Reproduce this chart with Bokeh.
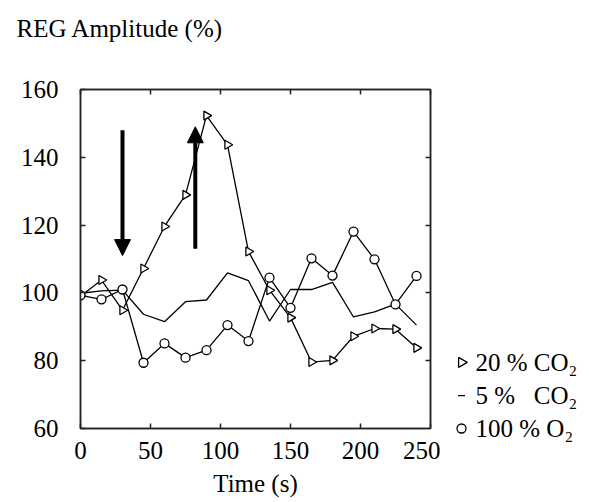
import math
from bokeh.plotting import figure
from bokeh.layouts import row
from bokeh.models import (LinearAxis, Range1d, FixedTicker, Arrow, NormalHead, Title)
from bokeh.core.properties import value
from bokeh.embed import file_html
from bokeh.resources import INLINE

# ---- data ----
time_s = [0, 15, 30, 45, 60, 75, 90, 105, 120, 135, 150, 165, 180, 195, 210, 225, 240]
co2_20 = [99.0, 103.8, 94.9, 107.2, 119.6, 128.9, 152.3, 143.7, 112.2, 100.8, 92.7,
          79.6, 80.1, 87.2, 89.5, 89.3, 83.8]
co2_5 = [99.9, 100.6, 100.8, 93.7, 91.5, 97.4, 97.9, 105.9, 103.6, 91.7, 101.0,
         101.0, 103.1, 92.9, 94.4, 96.7, 90.5]
o2_100 = [99.3, 98.1, 101.0, 79.4, 85.1, 80.9, 83.1, 90.5, 85.8, 104.5, 95.6,
          110.2, 105.1, 118.1, 109.9, 96.6, 105.0]
labels = ["20 % CO\u2082", "5 %\u00a0\u00a0\u00a0CO\u2082", "100 % O\u2082"]
legend_y = [79.5, 69.7, 60.0]
x_ticks = [0, 50, 100, 150, 200, 250]
y_ticks = [60, 80, 100, 120, 140, 160]
# arrows: (x, y_start, y_end)
arrow_down = (30, 148, 111)
arrow_up = (82, 113, 149)

FONT = "Liberation Serif"
FS = "25px"
Y0, Y1 = 60, 160
FRAME_H = 339
TOP = 89
PX_PER_UNIT = FRAME_H / (Y1 - Y0)

p = figure(frame_width=350, frame_height=FRAME_H, output_backend="svg",
           toolbar_location=None, x_range=Range1d(0, 250), y_range=Range1d(Y0, Y1),
           min_border_left=80, min_border_top=TOP, min_border_right=10,
           min_border_bottom=10)
p.grid.visible = False
p.background_fill_color = "white"
p.border_fill_color = "white"
p.outline_line_color = "#222222"
p.outline_line_width = 1.5

def style_axis(ax, show_labels=True):
    ax.axis_line_color = "#222222"
    ax.axis_line_width = 1.5
    ax.major_tick_in = 5
    ax.major_tick_out = 0
    ax.minor_tick_line_color = None
    ax.major_tick_line_color = "#222222"
    ax.major_tick_line_width = 1.5
    ax.major_label_text_font = FONT
    ax.major_label_text_font_size = FS
    ax.major_label_text_color = "black"
    ax.axis_label_text_font = FONT
    ax.axis_label_text_font_size = FS
    ax.axis_label_text_font_style = "normal"
    ax.axis_label_text_color = "black"
    if not show_labels:
        ticks = ax.ticker.ticks
        ax.major_label_overrides = {t: "" for t in ticks}
        ax.major_label_text_font_size = "1px"
        ax.major_label_standoff = 0

p.xaxis.ticker = FixedTicker(ticks=x_ticks)
p.yaxis.ticker = FixedTicker(ticks=y_ticks)
style_axis(p.xaxis[0])
style_axis(p.yaxis[0])
p.xaxis.axis_label = "Time (s)"
p.xaxis.major_label_standoff = 13
p.xaxis.axis_label_standoff = 8
p.yaxis.major_label_standoff = 22

top = LinearAxis(ticker=FixedTicker(ticks=x_ticks))
style_axis(top, show_labels=False)
p.add_layout(top, "above")
right = LinearAxis(ticker=FixedTicker(ticks=[80, 100, 120, 140]))
style_axis(right, show_labels=False)
p.add_layout(right, "right")

# spacer + y-axis title (horizontal, top-left)
p.add_layout(Title(text=" ", text_font_size="28px"), "above")
p.add_layout(Title(text="REG Amplitude (%)", text_font=FONT, text_font_size=FS,
                   text_font_style="normal", text_color="black", align="left",
                   offset=-64), "above")

# series
p.line(time_s, co2_20, line_color="black", line_width=1.3)
p.scatter(time_s, co2_20, marker="triangle", angle=-math.pi / 2, size=9,
          fill_color="white", line_color="black", line_width=1.3)
p.line(time_s, co2_5, line_color="black", line_width=1.3)
p.line(time_s, o2_100, line_color="black", line_width=1.3)
p.scatter(time_s, o2_100, marker="circle", size=9,
          fill_color="white", line_color="black", line_width=1.3)

for (ax_, ys, ye) in (arrow_down, arrow_up):
    p.add_layout(Arrow(end=NormalHead(size=16, fill_color="black", line_color="black"),
                       x_start=ax_, y_start=ys, x_end=ax_, y_end=ye,
                       line_width=4, line_color="black"))

# legend panel: separate figure with the same top border and vertical scale,
# its frame extended below so the bottom row is not clipped
LEG_W = 149
EXTRA = 40
leg = figure(frame_width=LEG_W, frame_height=FRAME_H + EXTRA, output_backend="svg",
             toolbar_location=None,
             x_range=Range1d(0, LEG_W), y_range=Range1d(Y0 - EXTRA / PX_PER_UNIT, Y1),
             x_axis_location=None, y_axis_location=None,
             min_border_top=TOP, min_border_bottom=0, min_border_left=0,
             min_border_right=0)
leg.grid.visible = False
leg.outline_line_color = None
leg.background_fill_color = "white"
leg.border_fill_color = "white"
marker_x = [21] * 3
text_x = [35] * 3
leg.scatter(marker_x[0:1], legend_y[0:1], marker="triangle", angle=-math.pi / 2,
            size=10, fill_color="white", line_color="black", line_width=1.3)
leg.scatter(marker_x[1:2], legend_y[1:2], marker="dash", size=7,
            line_color="black", line_width=1.3)
leg.scatter(marker_x[2:3], legend_y[2:3], marker="circle", size=9,
            fill_color="white", line_color="black", line_width=1.3)
leg.text(text_x, legend_y, text=labels, text_font=value(FONT),
         text_font_size=value(FS), text_baseline="middle", text_align="left",
         text_color="black")

layout = row(p, leg)
open("out.html", "w").write(file_html(layout, INLINE))
